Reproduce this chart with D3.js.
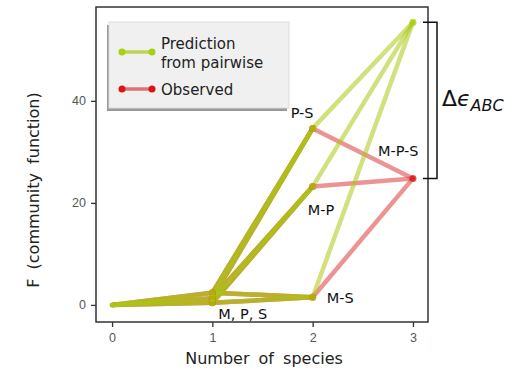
<!DOCTYPE html>
<html>
<head>
<meta charset="utf-8">
<script src="https://d3js.org/d3.v7.min.js"></script>
<style>
  body { margin: 0; background: #fff; }
  text { font-family: "DejaVu Sans", sans-serif; }
</style>
</head>
<body>
<svg width="527" height="375"></svg>
<script>
// communities and F values
const singles = ["M", "P", "S"]
const singleF = [0.4, 1.3, 2.4]
const pairs = ["M-P", "P-S", "M-S"]
const pairF = [23.2, 34.6, 1.5]
const triple = "M-P-S"
const tripleObserved = 24.8
const triplePredicted = 55.4
const xTicks = [0, 1, 2, 3]
const yTicks = [0, 20, 40]

const svg = d3.select("svg")
const x = d3.scaleLinear().domain([-0.16, 3.15]).range([96, 428])
const y = d3.scaleLinear().domain([-3.35, 58.4]).range([322, 7])

// build nodes for each series
const members = n => n === "" ? [] : n.split("-")
function nodes(tripleVal) {
  const out = [{ name: "", n: 0, f: 0 }]
  singles.forEach((s, i) => out.push({ name: s, n: 1, f: singleF[i] }))
  pairs.forEach((p, i) => out.push({ name: p, n: 2, f: pairF[i] }))
  out.push({ name: triple, n: 3, f: tripleVal })
  return out
}
function edges(ns) {
  const e = []
  ns.forEach(a => ns.forEach(b => {
    if (b.n === a.n + 1 && members(a.name).every(m => members(b.name).includes(m))) e.push([a, b])
  }))
  return e
}

const observed = { nodes: nodes(tripleObserved), line: "#dc3c3c", dot: "#dd1414" }
const predicted = { nodes: nodes(triplePredicted), line: "#aac814", dot: "#a8d010" }

const plot = svg.append("g")
;[observed, predicted].forEach(s => {
  plot.selectAll(null).data(edges(s.nodes)).join("line")
    .attr("x1", d => x(d[0].n)).attr("y1", d => y(d[0].f))
    .attr("x2", d => x(d[1].n)).attr("y2", d => y(d[1].f))
    .attr("stroke", s.line).attr("stroke-width", 4.5)
    .attr("stroke-opacity", d => d[1].n < 3 ? 0.75 : 0.55).attr("stroke-linecap", "round")
})
;[observed, predicted].forEach(s => {
  plot.selectAll(null).data(s.nodes.filter(d => d.n > 0)).join("circle")
    .attr("cx", d => x(d.n)).attr("cy", d => y(d.f)).attr("r", 3.5)
    .attr("fill", s.dot).attr("fill-opacity", 0.75)
})

// labels
const lab = (t, n, f, dx, dy) => svg.append("text")
  .attr("x", x(n) + dx).attr("y", y(f) + dy)
  .attr("font-size", 14.5).attr("fill", "#111").text(t)
lab("P-S", 2, pairF[1], -22, -10)
lab("M-P", 2, pairF[0], -5, 28)
lab("M-S", 2, pairF[2], 14, 6)
lab("M, P, S", 1, 0, 6, 14)
lab("M-P-S", 3, tripleObserved, -35, -22)

// frame
svg.append("rect").attr("x", 96).attr("y", 7).attr("width", 332).attr("height", 315)
  .attr("fill", "none").attr("stroke", "#333").attr("stroke-width", 1.5)

const xAxis = svg.append("g").attr("transform", "translate(0,322)")
  .call(d3.axisBottom(x).tickValues(xTicks).tickFormat(d3.format("d")).tickSize(5).tickPadding(6))
const yAxis = svg.append("g").attr("transform", "translate(96,0)")
  .call(d3.axisLeft(y).tickValues(yTicks).tickFormat(d3.format("d")).tickSize(5).tickPadding(5))
;[xAxis, yAxis].forEach(a => {
  a.select(".domain").remove()
  a.selectAll("line").attr("stroke", "#333").attr("stroke-width", 1.3)
  a.selectAll("text").attr("fill", "#555").attr("font-size", 12.5)
    .style("font-family", "Liberation Sans, sans-serif")
})

svg.append("text").attr("x", 264).attr("y", 364).attr("text-anchor", "middle")
  .attr("font-size", 16).attr("fill", "#222").attr("word-spacing", 4).text("Number of species")
svg.append("text").attr("transform", "translate(39,190) rotate(-90)").attr("text-anchor", "middle")
  .attr("font-size", 16).attr("fill", "#222").attr("word-spacing", 4).text("F (community function)")

// legend
svg.append("rect").attr("x", 107).attr("y", 25).attr("width", 180).attr("height", 86).attr("fill", "#999")
svg.append("rect").attr("x", 109).attr("y", 22).attr("width", 180).attr("height", 86)
  .attr("fill", "#f0f0f0").attr("stroke", "#ddd")
const legend = [
  { label: ["Prediction", "from pairwise"], s: predicted, y: 52 },
  { label: ["Observed"], s: observed, y: 89 }
]
legend.forEach(l => {
  svg.append("line").attr("x1", 122).attr("x2", 152).attr("y1", l.y).attr("y2", l.y)
    .attr("stroke", l.s.line).attr("stroke-width", 3.5).attr("stroke-opacity", 0.7)
  ;[122, 152].forEach(cx => svg.append("circle").attr("cx", cx).attr("cy", l.y).attr("r", 3.5).attr("fill", l.s.dot))
  const t = svg.append("text").attr("x", 161).attr("y", l.y + 6 - (l.label.length - 1) * 9.5)
    .attr("font-size", 15).attr("fill", "#222")
  l.label.forEach((s, i) => t.append("tspan").attr("x", 161).attr("dy", i ? 19 : 0).text(s))
})

// bracket for the gap
const bx = 437
svg.append("path")
  .attr("d", `M423,${y(triplePredicted)}H${bx}V${y(tripleObserved)}H423`)
  .attr("fill", "none").attr("stroke", "#111").attr("stroke-width", 1.5)
const dt = svg.append("text").attr("x", 442).attr("y", (y(triplePredicted) + y(tripleObserved)) / 2 + 6)
  .attr("font-family", "Liberation Serif, serif").attr("font-size", 22).attr("fill", "#111")
dt.append("tspan").text("Δ")
dt.append("tspan").attr("font-style", "italic").text("ϵ")
dt.append("tspan").attr("font-style", "italic").attr("font-size", 16).attr("dy", 5).text("ABC")
</script>
</body>
</html>
